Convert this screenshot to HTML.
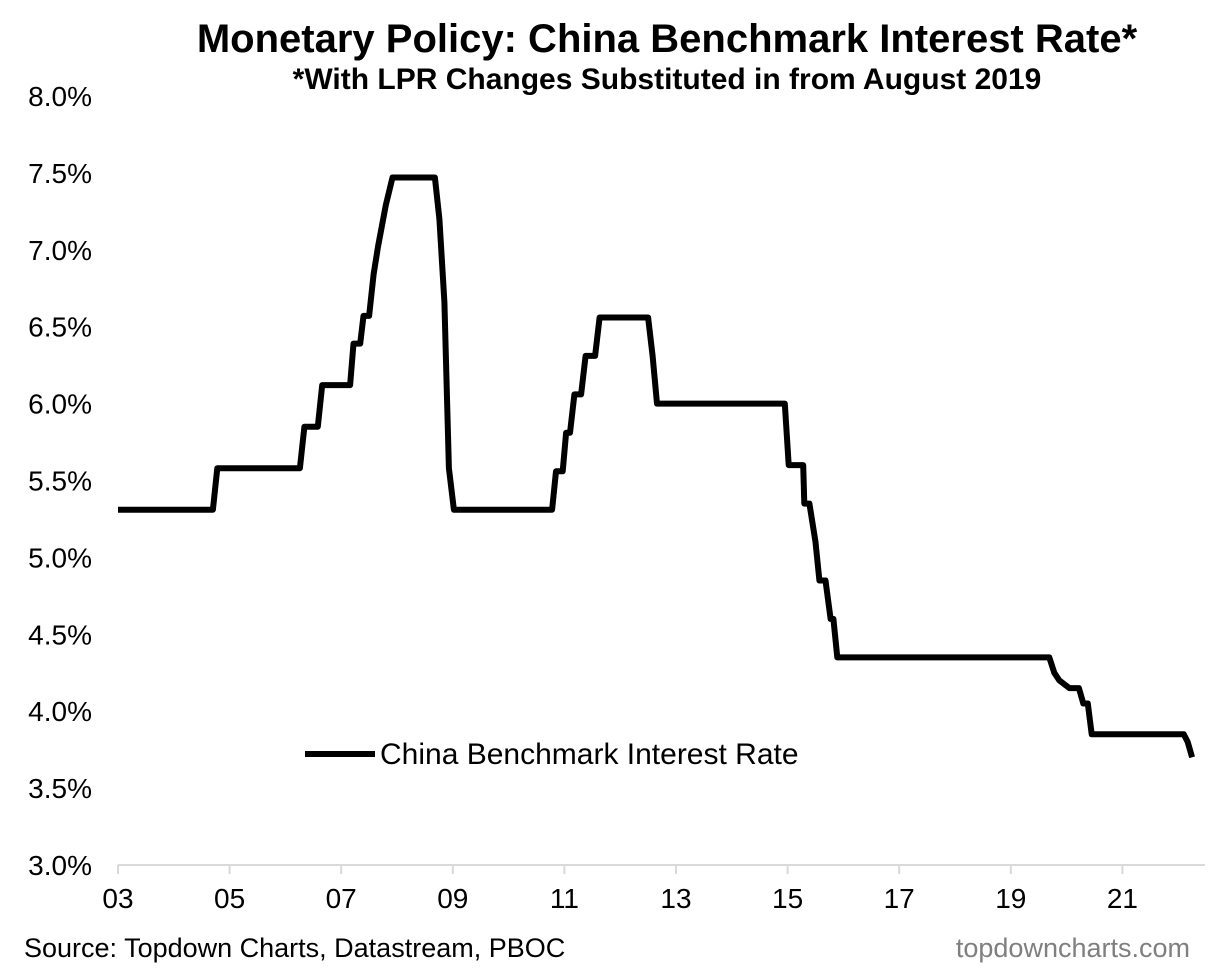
<!DOCTYPE html>
<html><head><meta charset="utf-8"><style>
body{margin:0;background:#fff;}
svg{display:block;font-family:"Liberation Sans",Arial,sans-serif;}
</style></head><body>
<svg id="c" width="1222" height="977">
<text x="667" y="52" text-anchor="middle" font-size="40" font-weight="bold">Monetary Policy: China Benchmark Interest Rate*</text>
<text x="667" y="89" text-anchor="middle" font-size="30" font-weight="bold">*With LPR Changes Substituted in from August 2019</text>
<g id="yaxis"></g>
<g id="xaxis"></g>
<g id="series"></g>
<line x1="305" y1="754" x2="375" y2="754" stroke="#000" stroke-width="6"/>
<text x="380" y="764" font-size="30">China Benchmark Interest Rate</text>
<text x="24" y="957" font-size="27">Source: Topdown Charts, Datastream, PBOC</text>
<text x="1190" y="957" text-anchor="end" font-size="27" fill="#7f7f7f">topdowncharts.com</text>
</svg>
<script>
const yTicks=[3.0,3.5,4.0,4.5,5.0,5.5,6.0,6.5,7.0,7.5,8.0];
const xTickYears=[2003,2005,2007,2009,2011,2013,2015,2017,2019,2021];
const dates=[2003.0,2004.7,2004.78,2006.26,2006.34,2006.58,2006.66,2007.16,2007.22,2007.34,2007.4,2007.5,2007.58,2007.66,2007.8,2007.92,2008.68,2008.76,2008.85,2008.93,2009.02,2010.78,2010.85,2010.97,2011.03,2011.1,2011.18,2011.3,2011.38,2011.55,2011.63,2012.5,2012.58,2012.66,2014.95,2015.02,2015.28,2015.3,2015.39,2015.5,2015.57,2015.68,2015.77,2015.82,2015.89,2019.69,2019.78,2019.87,2020.05,2020.22,2020.3,2020.38,2020.45,2022.1,2022.17,2022.25];
const rates=[5.31,5.31,5.58,5.58,5.85,5.85,6.12,6.12,6.39,6.39,6.57,6.57,6.84,7.02,7.29,7.47,7.47,7.20,6.66,5.58,5.31,5.31,5.56,5.56,5.81,5.81,6.06,6.06,6.31,6.31,6.56,6.56,6.31,6.00,6.00,5.60,5.60,5.35,5.35,5.10,4.85,4.85,4.60,4.60,4.35,4.35,4.25,4.20,4.15,4.15,4.05,4.05,3.85,3.85,3.80,3.70];
</script>
<script>
const NS="http://www.w3.org/2000/svg";
const X=y=>118+(y-2003)*55.8;
const Y=v=>865-(v-3)*153.8;
function mk(t,a,p){const e=document.createElementNS(NS,t);for(const k in a)e.setAttribute(k,a[k]);p.appendChild(e);return e;}
const ya=document.getElementById('yaxis');
yTicks.forEach(v=>{const t=mk('text',{x:92,y:Y(v)+10,'text-anchor':'end','font-size':28},ya);t.textContent=v.toFixed(1)+'%';

});
const xa=document.getElementById('xaxis');
const ax=mk('line',{x1:118,y1:865,x2:1205,y2:865,stroke:'#d9d9d9','stroke-width':2},xa);


xTickYears.forEach(yr=>{const l=mk('line',{x1:X(yr),y1:865,x2:X(yr),y2:874,stroke:'#d9d9d9','stroke-width':2},xa);


const t=mk('text',{x:X(yr),y:908,'text-anchor':'middle','font-size':28},xa);t.textContent=String(yr%100).padStart(2,'0');

});
const n=Math.min(dates.length,rates.length);
let d='';for(let i=0;i<n;i++)d+=(i?'L':'M')+X(dates[i]).toFixed(1)+','+Y(rates[i]).toFixed(1);
const p=mk('path',{d:d,fill:'none',stroke:'#000','stroke-width':6,'stroke-linejoin':'round'},document.getElementById('series'));


</script>
</body></html>
